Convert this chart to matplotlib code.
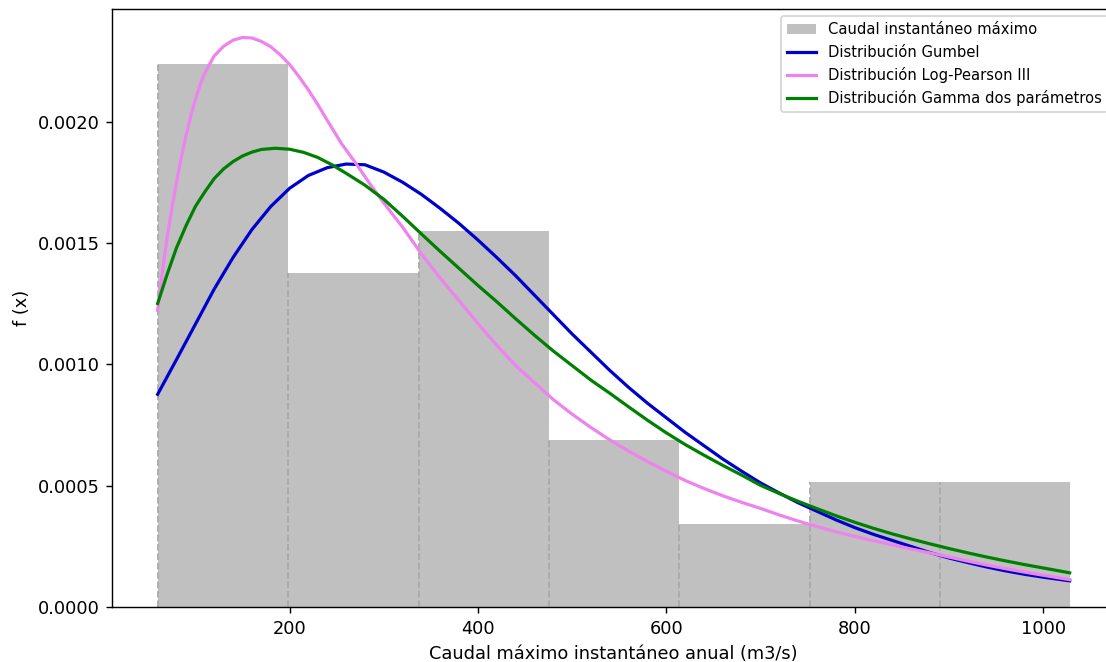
import numpy as np
import matplotlib
matplotlib.use('Agg')
import matplotlib.pyplot as plt

# histogram (density) of annual maximum instantaneous flow
bin_edges = [60, 198, 337, 475, 613, 752, 890, 1028]
densidad = [0.002238, 0.001377, 0.001549, 0.000689, 0.000345, 0.000516, 0.000516]

# fitted pdfs, values
x_gumbel = [60, 80, 100, 120, 140, 160, 180, 200, 220, 240, 260, 280, 300, 320,
            340, 360, 380, 400, 420, 440, 460, 480, 500, 520, 540, 560, 580, 600,
            620, 640, 660, 680, 700, 720, 740, 760, 780, 800, 820, 840, 860, 880,
            900, 920, 940, 960, 980, 1000, 1028]
f_gumbel = [0.000877, 0.001020, 0.001165, 0.001310, 0.001440, 0.001555, 0.001650,
            0.001725, 0.001778, 0.001810, 0.001825, 0.001822, 0.001792, 0.001750,
            0.001700, 0.001642, 0.001580, 0.001512, 0.001440, 0.001365, 0.001285,
            0.001205, 0.001125, 0.001050, 0.000975, 0.000905, 0.000840, 0.000780,
            0.000720, 0.000665, 0.000610, 0.000560, 0.000512, 0.000470, 0.000430,
            0.000395, 0.000360, 0.000328, 0.000300, 0.000275, 0.000250, 0.000225,
            0.000203, 0.000184, 0.000166, 0.000150, 0.000136, 0.000124, 0.000109]

x_lp3 = [60, 65, 70, 75, 80, 85, 90, 95, 100, 105, 110, 120, 130, 140, 150, 160,
         170, 180, 190, 200, 210, 220, 230, 240, 255, 270, 285, 300, 320, 340,
         360, 380, 400, 420, 440, 460, 480, 500, 520, 540, 560, 580, 600, 620,
         640, 660, 680, 700, 720, 740, 760, 780, 800, 820, 840, 860, 880, 900,
         920, 940, 960, 980, 1000, 1028]
f_lp3 = [0.001223, 0.001380, 0.001520, 0.001640, 0.001750, 0.001850, 0.001940,
         0.002020, 0.002090, 0.002150, 0.002200, 0.002270, 0.002310, 0.002335,
         0.002346, 0.002344, 0.002330, 0.002308, 0.002275, 0.002235, 0.002185,
         0.002130, 0.002070, 0.002005, 0.001910, 0.001830, 0.001745, 0.001665,
         0.001565, 0.001455, 0.001355, 0.001262, 0.001168, 0.001078, 0.000995,
         0.000925, 0.000855, 0.000795, 0.000740, 0.000689, 0.000643, 0.000600,
         0.000560, 0.000522, 0.000489, 0.000459, 0.000432, 0.000407, 0.000380,
         0.000355, 0.000332, 0.000311, 0.000292, 0.000274, 0.000257, 0.000240,
         0.000224, 0.000207, 0.000190, 0.000174, 0.000159, 0.000145, 0.000132,
         0.000114]

x_gamma = [60, 70, 80, 90, 100, 110, 120, 130, 140, 150, 160, 170, 185, 200,
           215, 230, 245, 260, 280, 300, 320, 340, 360, 380, 400, 420, 440, 460,
           480, 500, 520, 540, 560, 580, 600, 620, 640, 660, 680, 700, 720, 740,
           760, 780, 800, 820, 840, 860, 880, 900, 920, 940, 960, 980, 1000, 1028]
f_gamma = [0.001251, 0.001370, 0.001480, 0.001570, 0.001650, 0.001710, 0.001765,
           0.001805, 0.001835, 0.001858, 0.001874, 0.001885, 0.001890, 0.001886,
           0.001873, 0.001852, 0.001822, 0.001787, 0.001738, 0.001680, 0.001610,
           0.001537, 0.001465, 0.001395, 0.001325, 0.001258, 0.001188, 0.001120,
           0.001055, 0.000995, 0.000935, 0.000881, 0.000825, 0.000770, 0.000718,
           0.000670, 0.000626, 0.000584, 0.000544, 0.000502, 0.000468, 0.000436,
           0.000406, 0.000377, 0.000350, 0.000325, 0.000302, 0.000281, 0.000261,
           0.000242, 0.000224, 0.000207, 0.000191, 0.000176, 0.000162, 0.000142]

dpi = 127.7
fig = plt.figure(figsize=(1106 / dpi, 662 / dpi), dpi=dpi)
ax = fig.add_axes([0.1013, 0.0826, 0.9071, 0.9038])

edges = np.array(bin_edges)
widths = np.diff(edges)
barras = ax.bar(edges[:-1], densidad, width=widths, align='edge', color='silver',
                label='Caudal instantáneo máximo')
ax.vlines(edges[:-1], 0, densidad, colors='darkgray', linestyles='--', linewidth=1)

l1, = ax.plot(x_gumbel, f_gumbel, color='mediumblue', lw=1.8, label='Distribución Gumbel')
l2, = ax.plot(x_lp3, f_lp3, color='violet', lw=1.8, label='Distribución Log-Pearson III')
l3, = ax.plot(x_gamma, f_gamma, color='green', lw=1.8,
              label='Distribución Gamma dos parámetros')

ax.set_xlabel('Caudal máximo instantáneo anual (m3/s)')
ax.set_ylabel('f (x)')
ax.legend(handles=[barras, l1, l2, l3], loc='upper right', fontsize='small')

fig.savefig('out.png', dpi=dpi)
